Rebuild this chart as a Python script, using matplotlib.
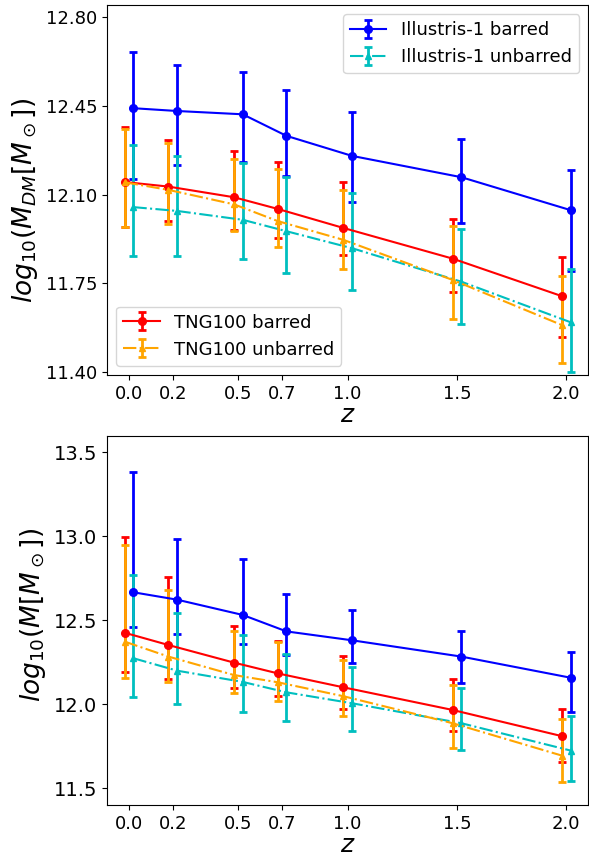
import numpy as np
import matplotlib
matplotlib.use('Agg')
import matplotlib.pyplot as plt

# redshifts
z = np.array([0.0, 0.2, 0.5, 0.7, 1.0, 1.5, 2.0])
z_ticks = ['0.0', '0.2', '0.5', '0.7', '1.0', '1.5', '2.0']

# ---- top panel: dark matter halo mass ----
dm_ill_bar = [12.441, 12.430, 12.417, 12.332, 12.253, 12.169, 12.039]
dm_ill_bar_hi = [12.662, 12.612, 12.584, 12.513, 12.428, 12.321, 12.198]
dm_ill_bar_lo = [12.161, 12.219, 12.227, 12.175, 12.073, 11.990, 11.801]

dm_ill_unb = [12.051, 12.036, 12.001, 11.956, 11.889, 11.757, 11.597]
dm_ill_unb_hi = [12.294, 12.254, 12.224, 12.171, 12.106, 11.966, 11.806]
dm_ill_unb_lo = [11.859, 11.859, 11.846, 11.790, 11.723, 11.590, 11.400]

dm_tng_bar = [12.150, 12.132, 12.090, 12.044, 11.969, 11.848, 11.700]
dm_tng_bar_hi = [12.365, 12.316, 12.273, 12.227, 12.149, 12.003, 11.853]
dm_tng_bar_lo = [11.974, 11.998, 11.962, 11.931, 11.861, 11.718, 11.538]

dm_tng_unb = [12.149, 12.119, 12.062, 11.996, 11.922, 11.764, 11.586]
dm_tng_unb_hi = [12.358, 12.305, 12.242, 12.203, 12.120, 11.977, 11.780]
dm_tng_unb_lo = [11.974, 11.986, 11.957, 11.895, 11.807, 11.610, 11.435]

# ---- bottom panel: total mass ----
m_ill_bar = [12.667, 12.623, 12.532, 12.434, 12.381, 12.284, 12.158]
m_ill_bar_hi = [13.381, 12.984, 12.863, 12.656, 12.561, 12.434, 12.310]
m_ill_bar_lo = [12.458, 12.420, 12.361, 12.292, 12.246, 12.125, 11.956]

m_ill_unb = [12.274, 12.200, 12.133, 12.071, 12.006, 11.887, 11.724]
m_ill_unb_hi = [12.768, 12.545, 12.413, 12.301, 12.224, 12.099, 11.932]
m_ill_unb_lo = [12.045, 12.002, 11.956, 11.901, 11.841, 11.726, 11.543]

m_tng_bar = [12.426, 12.353, 12.248, 12.184, 12.101, 11.966, 11.810]
m_tng_bar_hi = [12.998, 12.760, 12.468, 12.377, 12.287, 12.151, 11.970]
m_tng_bar_lo = [12.190, 12.151, 12.095, 12.049, 11.974, 11.839, 11.657]

m_tng_unb = [12.373, 12.284, 12.174, 12.131, 12.048, 11.887, 11.694]
m_tng_unb_hi = [12.948, 12.679, 12.434, 12.371, 12.264, 12.115, 11.912]
m_tng_unb_lo = [12.158, 12.133, 12.069, 12.020, 11.929, 11.742, 11.539]


def errs(mid, hi, lo):
    mid = np.array(mid)
    return mid, [mid - np.array(lo), np.array(hi) - mid]


def draw(ax, ill_bar, ill_unb, tng_bar, tng_unb):
    kw = dict(elinewidth=2, capsize=3, capthick=2, lw=1.5)
    y, e = errs(*ill_bar)
    h1 = ax.errorbar(z + 0.02, y, yerr=e, color='b', marker='o', ms=5.5,
                     ls='-', label='Illustris-1 barred', **kw)
    y, e = errs(*ill_unb)
    h2 = ax.errorbar(z + 0.02, y, yerr=e, color='c', marker='^', ms=5,
                     ls='-.', label='Illustris-1 unbarred', **kw)
    y, e = errs(*tng_bar)
    h3 = ax.errorbar(z - 0.02, y, yerr=e, color='r', marker='o', ms=5.5,
                     ls='-', label='TNG100 barred', **kw)
    y, e = errs(*tng_unb)
    h4 = ax.errorbar(z - 0.02, y, yerr=e, color='orange', marker='^', ms=5,
                     ls='-.', label='TNG100 unbarred', **kw)
    ax.set_xticks(z)
    ax.set_xticklabels(z_ticks)
    ax.set_xlim(-0.10, 2.10)
    ax.tick_params(labelsize=13)
    ax.set_xlabel('$z$', fontsize=18, labelpad=0)
    return h1, h2, h3, h4


fig = plt.figure(figsize=(5.89, 8.59), dpi=100)
ax1 = fig.add_axes([0.182, 0.5634, 0.8166, 0.4308])
ax2 = fig.add_axes([0.182, 0.0629, 0.8166, 0.4299])

h = draw(ax1,
         (dm_ill_bar, dm_ill_bar_hi, dm_ill_bar_lo),
         (dm_ill_unb, dm_ill_unb_hi, dm_ill_unb_lo),
         (dm_tng_bar, dm_tng_bar_hi, dm_tng_bar_lo),
         (dm_tng_unb, dm_tng_unb_hi, dm_tng_unb_lo))
ax1.set_yticks(np.linspace(11.4, 12.8, 5))
ax1.set_yticklabels(['11.40', '11.75', '12.10', '12.45', '12.80'])
ax1.set_ylim(11.389, 12.848)
ax1.set_ylabel(r'$log_{10}(M_{DM}[M_\odot])$', fontsize=19)
ax1.yaxis.label.set_y(0.473)
leg1 = ax1.legend(handles=[h[0], h[1]], loc='upper right', fontsize=13)
ax1.add_artist(leg1)
ax1.legend(handles=[h[2], h[3]], loc='lower left', fontsize=13)

draw(ax2,
     (m_ill_bar, m_ill_bar_hi, m_ill_bar_lo),
     (m_ill_unb, m_ill_unb_hi, m_ill_unb_lo),
     (m_tng_bar, m_tng_bar_hi, m_tng_bar_lo),
     (m_tng_unb, m_tng_unb_hi, m_tng_unb_lo))
ax2.set_yticks([11.5, 12.0, 12.5, 13.0, 13.5])
ax2.set_ylim(11.40, 13.60)
ax2.tick_params(axis='y', labelsize=14)
ax2.set_ylabel(r'$log_{10}(M[M_\odot])$', fontsize=19)
ax2.yaxis.label.set_y(0.514)

fig.savefig('out.png', dpi=100)
